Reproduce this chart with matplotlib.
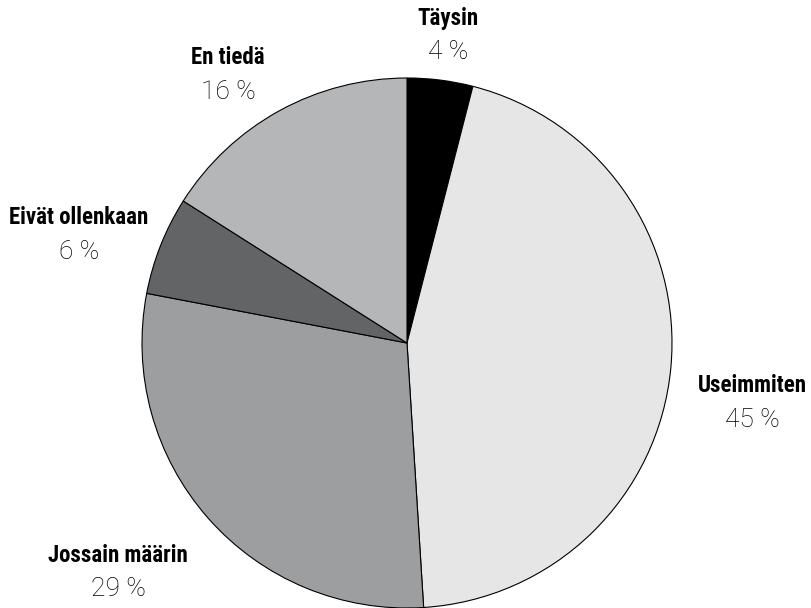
import matplotlib

matplotlib.use("Agg")
import matplotlib.pyplot as plt

labels = ["Täysin", "Useimmiten", "Jossain määrin", "Eivät ollenkaan", "En tiedä"]
values = [4, 45, 29, 6, 16]
colors = ["#000000", "#e6e6e6", "#9d9ea0", "#636466", "#b5b6b8"]

# label anchor points in pixel space (x, y from top)
label_pos = [(448, 18), (752, 386), (118, 555), (79, 218), (228, 58)]

W, H = 812, 608
fig = plt.figure(figsize=(W / 100, H / 100), dpi=100)
ax = fig.add_axes([0, 0, 1, 1])

ax.pie(
    values,
    colors=colors,
    startangle=90,
    counterclock=False,
    center=(407, H - 343),
    radius=265,
    wedgeprops=dict(edgecolor="black", linewidth=0.8),
    frame=True,
)
ax.set_xlim(0, W)
ax.set_ylim(0, H)
ax.set_aspect("equal")
ax.axis("off")

bold_font = ["Roboto Condensed", "DejaVu Sans"]
light_font = ["Roboto", "DejaVu Sans"]
for name, val, (px, py) in zip(labels, values, label_pos):
    ax.text(px, H - py, name, ha="center", va="center", fontsize=16.5,
            fontweight="bold", fontstretch="condensed", family=bold_font,
            color="black")
    ax.text(px, H - py - 34, f"{val} %", ha="center", va="center", fontsize=19,
            fontweight="light", family=light_font, color="black")

fig.savefig("out.png", dpi=100)
